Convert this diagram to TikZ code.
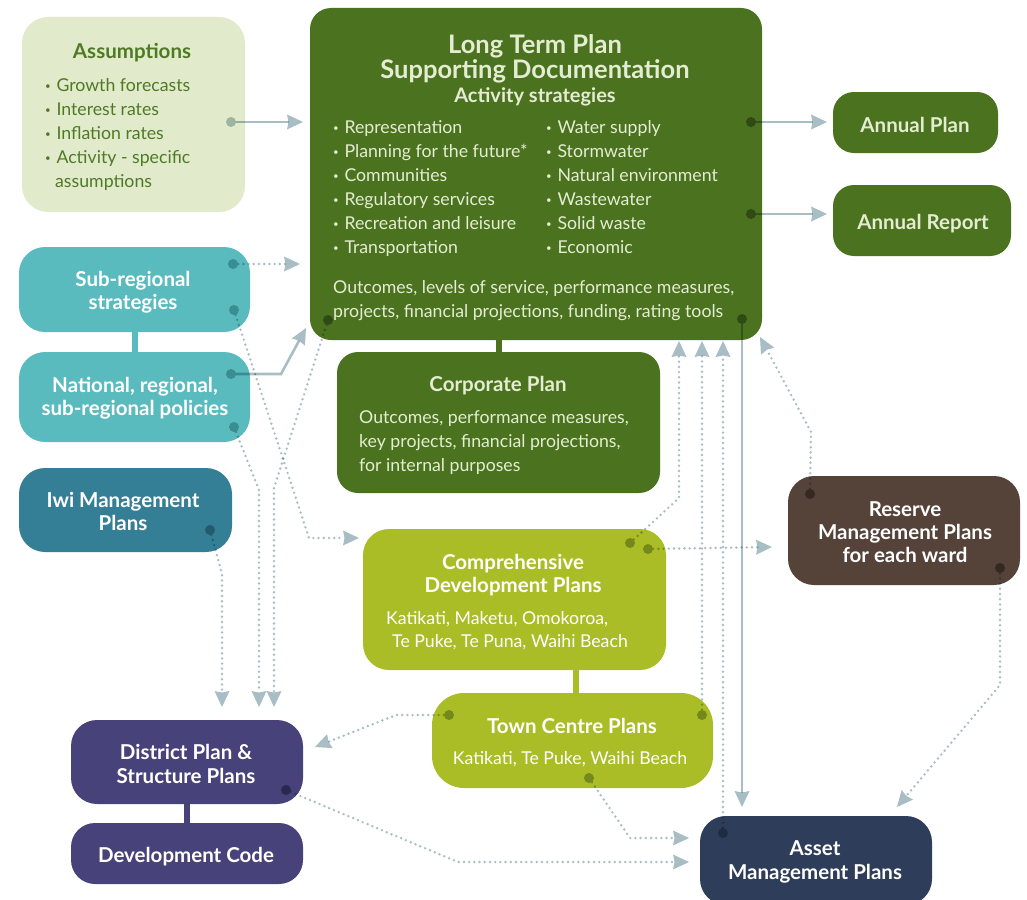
\documentclass[tikz,border=0pt]{standalone}
\usepackage{fontspec}
\setmainfont{Lato}
\usetikzlibrary{arrows.meta}
\definecolor{cgreen}{HTML}{4B721F}
\definecolor{ccream}{HTML}{E4EDD2}
\definecolor{cassfill}{HTML}{E1EBCB}
\definecolor{casstext}{HTML}{4E7A25}
\definecolor{cteal}{HTML}{5ABBBE}
\definecolor{ciwi}{HTML}{357F96}
\definecolor{clime}{HTML}{ABBD26}
\definecolor{cbrown}{HTML}{55433A}
\definecolor{cpurple}{HTML}{48427A}
\definecolor{cnavy}{HTML}{2E3D5A}
\definecolor{cconn}{HTML}{A9BDC5}
\definecolor{dass}{HTML}{9DB4A3}
\definecolor{dgreen}{HTML}{2F4A17}
\definecolor{dteal}{HTML}{3A8D92}
\definecolor{diwi}{HTML}{235B6C}
\definecolor{dlime}{HTML}{74881C}
\definecolor{dbrown}{HTML}{33291F}
\definecolor{dpurple}{HTML}{2A2853}
\definecolor{dnavy}{HTML}{1F2B42}
\newcommand{\bul}{\raisebox{0.2ex}{\scalebox{0.55}{•}}\hspace{0.32em}}
\begin{document}
\begin{tikzpicture}[x=1pt,y=-1pt,
  box/.style={rectangle, rounded corners=26pt, inner sep=0pt},
  gbox/.style={rectangle, rounded corners=21pt, inner sep=0pt, fill=cgreen},
  tt/.style={inner sep=0pt, anchor=base, font=\bfseries\fontsize{20.5}{24}\selectfont},
  bigtt/.style={inner sep=0pt, anchor=base, font=\bfseries\fontsize{25.5}{28}\selectfont},
  bd/.style={inner sep=0pt, anchor=base west, font=\fontsize{17.7}{24}\selectfont},
  bdc/.style={inner sep=0pt, anchor=base, font=\fontsize{17.7}{24}\selectfont},
  bar/.style={line width=6pt},
  tip/.style={-{Stealth[length=16pt,width=15pt,inset=1.5pt,line width=0pt,fill=cconn]}},
  solidc/.style={tip, draw=cconn, line width=2.6pt},
  dotc/.style={tip, draw=cconn, line width=2.7pt, line cap=round, dash pattern=on 0pt off 5.2pt},
]
\useasboundingbox (0,0) rectangle (1027,899);

% ---------- boxes ----------
\node[box, fill=cassfill, minimum width=223, minimum height=195] (assum) at (133.5,114.5) {};
\node[gbox, minimum width=452, minimum height=332] (ltp) at (536,174) {};
\node[gbox, minimum width=165, minimum height=61] (aplan) at (915.5,122.5) {};
\node[gbox, minimum width=178, minimum height=71] (areport) at (922,220.5) {};
\node[box, fill=cteal, minimum width=231, minimum height=85] (subreg) at (134.5,289.5) {};
\node[box, fill=cteal, minimum width=231, minimum height=90] (natl) at (134.5,397) {};
\node[box, fill=ciwi, minimum width=213, minimum height=84] (iwi) at (125.5,510) {};
\node[gbox, minimum width=323, minimum height=141] (corp) at (498.5,422.5) {};
\node[box, fill=clime, minimum width=303, minimum height=141] (cdp) at (514.5,599.5) {};
\node[box, rounded corners=32pt, fill=clime, minimum width=281, minimum height=95] (tcp) at (572.5,740.5) {};
\node[box, fill=cbrown, minimum width=232, minimum height=109] (reserve) at (904,530.5) {};
\node[box, fill=cpurple, minimum width=232, minimum height=84] (district) at (187,762) {};
\node[box, rounded corners=24pt, fill=cpurple, minimum width=232, minimum height=61] (devcode) at (187,853.5) {};
\node[box, fill=cnavy, minimum width=232, minimum height=89] (amp) at (816,860.5) {};

% ---------- bars ----------
\draw[bar, cteal] (subreg.south) -- (natl.north);
\draw[bar, cgreen] (corp.north) -- (corp.north |- ltp.south);
\draw[bar, clime] ([xshift=3pt]tcp.north) -- ([xshift=3pt]tcp.north |- cdp.south);
\draw[bar, cpurple] (district.south) -- (devcode.north);

% ---------- texts ----------
\node[tt, casstext] (assT) at (132,59) {Assumptions};
\node[bd, casstext] (ass1) at (45,91.5) {\bul Growth forecasts};
\node[bd, casstext] (ass2) at (45,115.5) {\bul Interest rates};
\node[bd, casstext] (ass3) at (45,139.5) {\bul Inflation rates};
\node[bd, casstext] (ass4) at (45,163.5) {\bul Activity - specific};
\node[bd, casstext] (ass5) at (55,187.5) {assumptions};

\node[bigtt, ccream] (ltpT1) at (535,54) {Long Term Plan};
\node[bigtt, ccream] (ltpT2) at (535,78) {Supporting Documentation};
\node[tt, ccream, font=\bfseries\fontsize{20}{24}\selectfont] (ltpT3) at (535,102) {Activity strategies};
\node[bd, ccream] (l1) at (333,133) {\bul Representation};
\node[bd, ccream] (l2) at (333,157) {\bul Planning for the future*};
\node[bd, ccream] (l3) at (333,181) {\bul Communities};
\node[bd, ccream] (l4) at (333,205) {\bul Regulatory services};
\node[bd, ccream] (l5) at (333,229) {\bul Recreation and leisure};
\node[bd, ccream] (l6) at (333,253) {\bul Transportation};
\node[bd, ccream] (r1) at (546,133) {\bul Water supply};
\node[bd, ccream] (r2) at (546,157) {\bul Stormwater};
\node[bd, ccream] (r3) at (546,181) {\bul Natural environment};
\node[bd, ccream] (r4) at (546,205) {\bul Wastewater};
\node[bd, ccream] (r5) at (546,229) {\bul Solid waste};
\node[bd, ccream] (r6) at (546,253) {\bul Economic};
\node[bd, ccream] (o1) at (333,293) {Outcomes, levels of service, performance measures,};
\node[bd, ccream] (o2) at (333,317) {projects, financial projections, funding, rating tools};

\node[tt, ccream] (apT) at (915,132) {Annual Plan};
\node[tt, ccream] (arT) at (923,229) {Annual Report};

\node[tt, white] (sub1) at (133,286) {Sub-regional};
\node[tt, white] (sub2) at (133,309) {strategies};
\node[tt, white] (nat1) at (135,392) {National, regional,};
\node[tt, white] (nat2) at (135,415) {sub-regional policies};
\node[tt, white] (iwi1) at (123,507) {Iwi Management};
\node[tt, white] (iwi2) at (123,530) {Plans};

\node[tt, ccream] (corpT) at (498,391) {Corporate Plan};
\node[bd, ccream] (c1) at (359,423) {Outcomes, performance measures,};
\node[bd, ccream] (c2) at (359,447) {key projects, financial projections,};
\node[bd, ccream] (c3) at (359,471) {for internal purposes};

\node[tt, white] (cdpT1) at (513,569) {Comprehensive};
\node[tt, white] (cdpT2) at (513,592) {Development Plans};
\node[bd, white] (cdp1) at (386,624) {Katikati, Maketu, Omokoroa,};
\node[bd, white] (cdp2) at (392,647) {Te Puke, Te Puna, Waihi Beach};

\node[tt, white] (tcpT) at (572,733) {Town Centre Plans};
\node[bdc, white] (tcp1) at (570,764) {Katikati, Te Puke, Waihi Beach};

\node[tt, white] (res1) at (905,516) {Reserve};
\node[tt, white] (res2) at (905,539) {Management Plans};
\node[tt, white] (res3) at (905,562) {for each ward};

\node[tt, white] (dis1) at (186,759) {District Plan \&};
\node[tt, white] (dis2) at (186,783) {Structure Plans};
\node[tt, white] (dev1) at (186,862) {Development Code};
\node[tt, white] (amp1) at (815,855) {Asset};
\node[tt, white] (amp2) at (815,879) {Management Plans};

% ---------- connector end points ----------
\coordinate (dA) at (231,122);
\coordinate (dL1) at (751,122);
\coordinate (dL2) at (751,214);
\coordinate (dL3) at (328,320);
\coordinate (dL4) at (742,319);
\coordinate (dS1) at (233,264);
\coordinate (dS2) at (234,310);
\coordinate (dN1) at (231,374);
\coordinate (dN2) at (234,427);
\coordinate (dI) at (210,530);
\coordinate (dC1) at (630,543);
\coordinate (dC2) at (648,549);
\coordinate (dT1) at (449,715);
\coordinate (dT2) at (702,715);
\coordinate (dT3) at (589,778);
\coordinate (dR1) at (810,494);
\coordinate (dR2) at (1000,568);
\coordinate (dD) at (286,790);
\coordinate (dM) at (723,833);

\coordinate (tA) at (303,122);
\coordinate (tL1) at (827,122);
\coordinate (tL2) at (827,214);
\coordinate (tS1) at (300,264);
\coordinate (bN1) at (281,374);
\coordinate (tN1) at (306,328);
\coordinate (bS2) at (309,538);
\coordinate (tS2) at (359,538);
\coordinate (bL3) at (274,488);
\coordinate (tL3) at (274,707);
\coordinate (bN2) at (259,490);
\coordinate (tN2) at (259,707);
\coordinate (bI) at (222,574);
\coordinate (tI) at (222,707);
\coordinate (bT1) at (396,715);
\coordinate (tT1) at (315,747);
\coordinate (bD) at (458,862);
\coordinate (tD) at (689,862);
\coordinate (bT3) at (630,838);
\coordinate (tT3) at (689,838);
\coordinate (bC1) at (679,498);
\coordinate (tC1) at (679,341);
\coordinate (tT2) at (702,341);
\coordinate (tM) at (723,341);
\coordinate (tL4) at (742,807);
\coordinate (tC2) at (772,547);
\coordinate (bR1) at (811,432);
\coordinate (tR1) at (760,337);
\coordinate (bR2) at (1000,685);
\coordinate (tR2) at (897,807);

% ---------- connectors ----------
\begin{scope}[blend mode=multiply]
\draw[solidc] (dA) -- (tA);
\draw[solidc] (dL1) -- (tL1);
\draw[solidc] (dL2) -- (tL2);
\draw[solidc] (dN1) -- (bN1) -- (tN1);
\draw[solidc] (dL4) -- (tL4);
\draw[dotc] (dS1) -- (tS1);
\draw[dotc] (dS2) -- (bS2) -- (tS2);
\draw[dotc] (dL3) -- (bL3) -- (tL3);
\draw[dotc] (dN2) -- (bN2) -- (tN2);
\draw[dotc] (dI) -- (bI) -- (tI);
\draw[dotc] (dT1) -- (bT1) -- (tT1);
\draw[dotc] (dD) -- (bD) -- (tD);
\draw[dotc] (dT3) -- (bT3) -- (tT3);
\draw[dotc] (dC1) -- (bC1) -- (tC1);
\draw[dotc] (dT2) -- (tT2);
\draw[dotc] (dM) -- (tM);
\draw[dotc] (dC2) -- (tC2);
\draw[dotc] (dR1) -- (bR1) -- (tR1);
\draw[dotc] (dR2) -- (bR2) -- (tR2);
\end{scope}

% ---------- dots ----------
\fill[dass] (dA) circle (5);
\fill[dgreen] (dL1) circle (5);
\fill[dgreen] (dL2) circle (5);
\fill[dgreen] (dL3) circle (5);
\fill[dgreen] (dL4) circle (5);
\fill[dteal] (dS1) circle (5);
\fill[dteal] (dS2) circle (5);
\fill[dteal] (dN1) circle (5);
\fill[dteal] (dN2) circle (5);
\fill[diwi] (dI) circle (5);
\fill[dlime] (dC1) circle (5);
\fill[dlime] (dC2) circle (5);
\fill[dlime] (dT1) circle (5);
\fill[dlime] (dT2) circle (5);
\fill[dlime] (dT3) circle (5);
\fill[dbrown] (dR1) circle (5);
\fill[dbrown] (dR2) circle (5);
\fill[dpurple] (dD) circle (5);
\fill[dnavy] (dM) circle (5);
\end{tikzpicture}
\end{document}
